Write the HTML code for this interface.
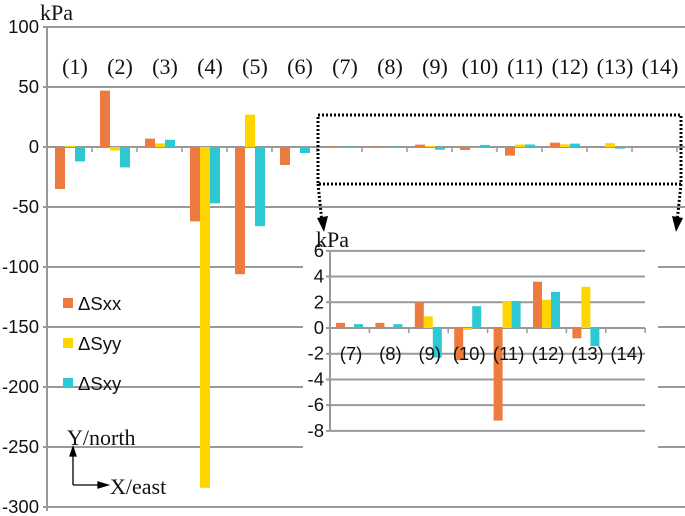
<!DOCTYPE html>
<html><head><meta charset="utf-8"><style>
body{margin:0;background:#fff}
svg{display:block}
.ax{font-family:"Liberation Sans",sans-serif;font-size:18.5px;fill:#111}
.sr{font-family:"Liberation Serif",serif;font-size:22px;fill:#111}
</style></head><body>
<svg id="c" width="685" height="516" xmlns="http://www.w3.org/2000/svg"></svg>
<script>
const categories=["(1)","(2)","(3)","(4)","(5)","(6)","(7)","(8)","(9)","(10)","(11)","(12)","(13)","(14)"];
const sxx=[-35,47,7,-62,-106,-15,0.4,0.4,2,-2.5,-7.2,3.6,-0.8,0];
const syy=[1,-3,3,-284,27,0,0,0,0.9,-0.15,2.1,2.2,3.2,0];
const sxy=[-12,-17,6,-47,-66,-5,0.3,0.3,-2.3,1.7,2.1,2.8,-1.4,0];
const mainTicks=[100,50,0,-50,-100,-150,-200,-250,-300];
const insetCats=["(7)","(8)","(9)","(10)","(11)","(12)","(13)","(14)"];
const insetTicks=[6,4,2,0,-2,-4,-6,-8];
const seriesNames=["ΔSxx","ΔSyy","ΔSxy"];
const colors=["#ED7A3E","#FFD500","#2EC8D4"];
const svg=document.getElementById('c');
const NS="http://www.w3.org/2000/svg";
function mk(t,a,p){const e=document.createElementNS(NS,t);for(const k in a)e.setAttribute(k,a[k]);(p||svg).appendChild(e);return e;}
const y=v=>147-v*1.2;
const x0=47,cw=45;
mainTicks.forEach(t=>{
 const l=mk('line',{x1:x0-4,x2:685,y1:y(t),y2:y(t),stroke:'#999','stroke-width':2});
 
 
 const tx=mk('text',{x:x0-8,y:y(t)+6,'text-anchor':'end',class:'ax'});tx.textContent=t;
 
 
});
mk('line',{x1:x0,x2:x0,y1:y(100),y2:y(-300)+4,stroke:'#999','stroke-width':2});
const ku=mk('text',{x:40,y:20,class:'sr'});ku.textContent='kPa';


categories.forEach((c,i)=>{
 mk('line',{x1:x0+cw*(i+1),x2:x0+cw*(i+1),y1:147,y2:152,stroke:'#999','stroke-width':1.5});
 const t=mk('text',{x:x0+cw*i+28,y:74,'text-anchor':'middle',class:'sr'});t.textContent=c;
 
 
 [sxx,syy,sxy].forEach((s,k)=>{
  const v=s[i];if(v===0)return;
  const r=mk('rect',{x:x0+cw*i+8+10*k,width:10,y:Math.min(y(0),y(v)),height:Math.abs(y(v)-y(0)),fill:colors[k]});
  
  
 });
});
seriesNames.forEach((n,k)=>{
 const g=mk('g',{});
 
 
 mk('rect',{x:63,y:298+40*k,width:10,height:10,fill:colors[k]},g);
 const t=mk('text',{x:78,y:310+40*k,class:'ax'},g);t.textContent=n;
});
const cp=mk('g',{stroke:'#000','stroke-width':1.3,fill:'none'});


mk('path',{d:'M73,485 V450 M73,485 H103'},cp);
mk('path',{d:'M70,456 L73,447 L76,456 Z M98,482 L108,485 L98,488 Z',fill:'#000'},cp);
const tn=mk('text',{x:67,y:445,class:'sr'});tn.textContent='Y/north';
const te=mk('text',{x:110,y:494,class:'sr'});te.textContent='X/east';
const db=mk('rect',{x:318,y:115,width:363,height:69,fill:'none',stroke:'#000','stroke-width':3,'stroke-dasharray':'2 2'});


mk('path',{d:'M318,184 L322,222 M681,184 L677,222',stroke:'#000','stroke-width':3,'stroke-dasharray':'2 2',fill:'none'});
mk('path',{d:'M317,218 L324,232 L328,216 Z M672,216 L676,232 L683,218 Z',fill:'#000'});
const ig=mk('g',{});


mk('rect',{x:303,y:232,width:355,height:238,fill:'#fff'},ig);
const iy=v=>328-v*12.86;
const ix0=330,icw=39.4;
insetTicks.forEach(t=>{
 mk('line',{x1:ix0-4,x2:645,y1:iy(t),y2:iy(t),stroke:'#999','stroke-width':2},ig);
 const tx=mk('text',{x:ix0-6,y:iy(t)+6,'text-anchor':'end',class:'ax'},ig);tx.textContent=t;
 
 
});
mk('line',{x1:ix0,x2:ix0,y1:iy(6),y2:iy(-8),stroke:'#999','stroke-width':2},ig);
const ik=mk('text',{x:316,y:247,class:'sr'},ig);ik.textContent='kPa';
insetCats.forEach((c,j)=>{
 const i=j+6;
 mk('line',{x1:ix0+icw*(j+1),x2:ix0+icw*(j+1),y1:328,y2:333,stroke:'#999','stroke-width':1.5},ig);
 [sxx,syy,sxy].forEach((s,k)=>{
  const v=s[i];if(v===0)return;
  const r=mk('rect',{x:ix0+icw*j+6+9*k,width:9,y:Math.min(iy(0),iy(v)),height:Math.abs(iy(v)-iy(0)),fill:colors[k]},ig);
  
  
 });
 const t=mk('text',{x:ix0+icw*j+21,y:360,'text-anchor':'middle',class:'ax'},ig);t.textContent=c;
 
 
});
</script>
</body></html>
